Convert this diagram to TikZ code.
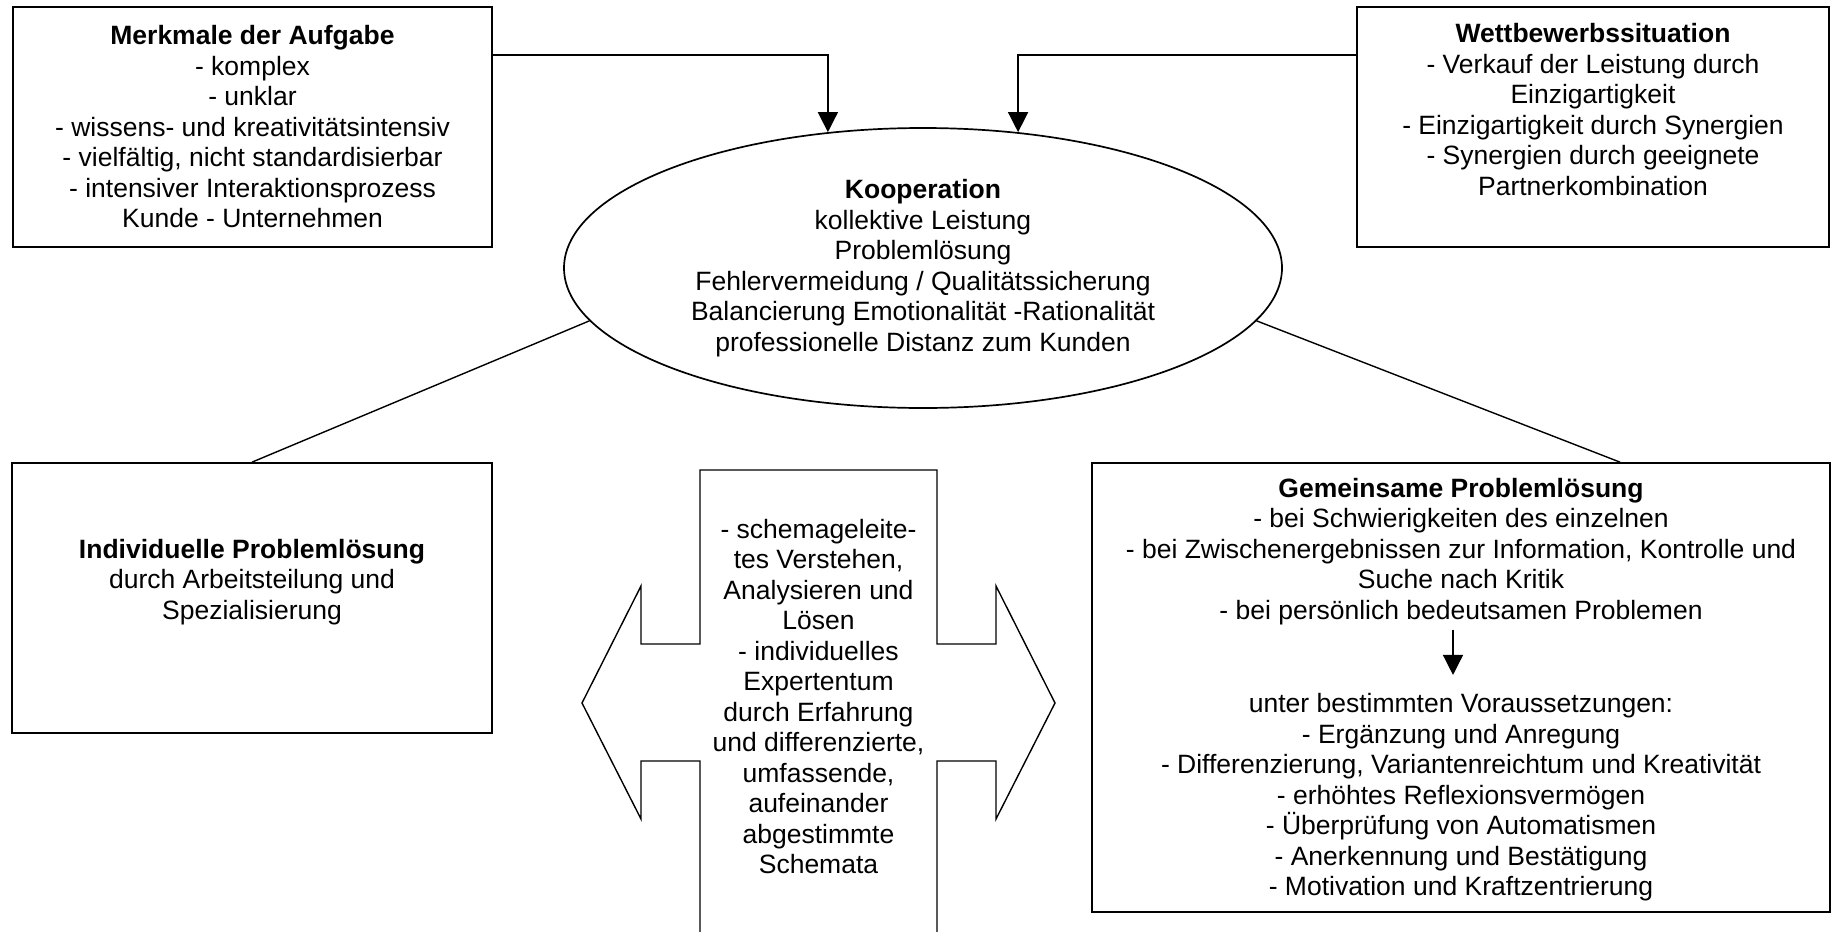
\documentclass[tikz,border=0pt]{standalone}
\usepackage{fontspec}
\setmainfont{Liberation Sans}
\usetikzlibrary{arrows.meta,shapes.geometric}

\tikzstyle{kooperationsbild}=[%
	every path/.style = {%
		black,
		line width=0.7pt
	},%
	myBox/.style={%
		draw,
		line width=0.85pt,
		inner sep=0pt
	},
	myText/.style={%
		align=center,
		inner sep=0pt,
		font={\fontsize{13.25pt}{15.25pt}\selectfont}
	},
	myArrow/.style={%
		-{Triangle[width=10pt,length=10pt]}
	}
]

\begin{document}
\begin{tikzpicture}[
	x=0.5pt,
	y=-0.5pt,
	kooperationsbild
]
	\useasboundingbox (0,0) rectangle (1832,932);

	\node[myBox, myText, minimum width=239.5pt, minimum height=120pt] (merkmale) at (252.5,127) 
		{\textbf{Merkmale der Aufgabe}\\- komplex\\- unklar\\- wissens- und kreativitätsintensiv\\- vielfältig, nicht standardisierbar\\- intensiver Interaktionsprozess\\Kunde - Unternehmen};

	\node[myBox, minimum width=236pt, minimum height=120pt] (wettbewerb) at (1593,127) {};
	\node[myText] (wettbewerbText) at (1593,109.5) 
		{\textbf{Wettbewerbssituation}\\- Verkauf der Leistung durch\\Einzigartigkeit\\- Einzigartigkeit durch Synergien\\- Synergien durch geeignete\\Partnerkombination};

	\node[myBox, myText, ellipse, minimum width=359pt, minimum height=140pt] (kooperation) at (923,268) 
		{\textbf{Kooperation}\\kollektive Leistung\\Problemlösung\\Fehlervermeidung / Qualitätssicherung\\Balancierung Emotionalität -Rationalität\\professionelle Distanz zum Kunden};

	\node[myBox, minimum width=240pt, minimum height=135pt] (individuell) at (252,598) {};
	\node[myText] (individuellText) at (252,582) 
		{\textbf{Individuelle Problemlösung}\\durch Arbeitsteilung und\\Spezialisierung};

	\node[myBox, minimum width=369pt, minimum height=224.5pt] (gemeinsam) at (1461,687.5) {};
	\node[myText] (gemeinsamOben) at (1461,551.5) 
		{\textbf{Gemeinsame Problemlösung}\\- bei Schwierigkeiten des einzelnen\\- bei Zwischenergebnissen zur Information, Kontrolle und\\Suche nach Kritik\\- bei persönlich bedeutsamen Problemen};
	\node[myText] (gemeinsamUnten) at (1461,797.5) 
		{unter bestimmten Voraussetzungen:\\- Ergänzung und Anregung\\- Differenzierung, Variantenreichtum und Kreativität\\- erhöhtes Reflexionsvermögen\\- Überprüfung von Automatismen\\- Anerkennung und Bestätigung\\- Motivation und Kraftzentrierung};

	\draw[myArrow] ([yshift=-24.5pt]merkmale.north east) -| (kooperation.125);
	\draw[myArrow] ([yshift=-24.5pt]wettbewerb.north west) -| (kooperation.55);
	\draw (kooperation.189) -- (individuell.north);
	\draw (kooperation.351) -- ([xshift=79.5pt]gemeinsam.north);
	\draw[myArrow, shorten <=2pt, shorten >=9pt] ([xshift=-4pt]gemeinsamOben.south) -- ([xshift=-4pt]gemeinsamUnten.north);

	\draw (700,932) 
		|- (641,761)
		-- (641,819)
		-- (582,703)
		-- (641,586)
		|- (700,644)
		|- (937,470)
		|- (996,644)
		-- (996,586)
		-- (1055,703)
		-- (996,819)
		|- (937,761)
		-- (937,932);
	\node[myText] (schemata) at (818.5,696.5) 
		{- schemageleite-\\tes Verstehen,\\Analysieren und\\Lösen\\- individuelles\\Expertentum\\durch Erfahrung\\und differenzierte,\\umfassende,\\aufeinander\\abgestimmte\\Schemata};
\end{tikzpicture}
\end{document}
